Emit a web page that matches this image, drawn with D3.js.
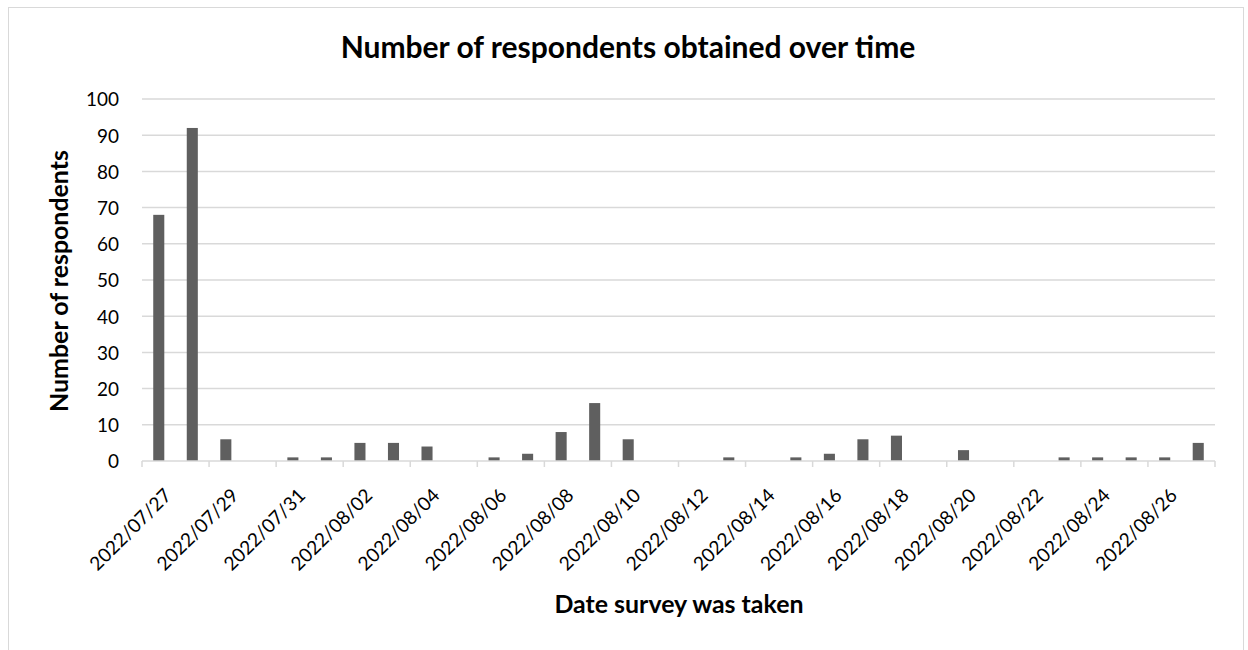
<!DOCTYPE html>
<html>
<head>
<meta charset="utf-8">
<script src="https://cdn.jsdelivr.net/npm/d3@7"></script>
<style>
  html, body { margin: 0; padding: 0; background: #fff; }
  svg { display: block; }
</style>
</head>
<body>
<svg id="chart" width="1248" height="650"></svg>
<script>
// Daily survey responses, 2022/07/27 – 2022/08/27
const dates = [
  "2022/07/27","2022/07/28","2022/07/29","2022/07/30","2022/07/31","2022/08/01",
  "2022/08/02","2022/08/03","2022/08/04","2022/08/05","2022/08/06","2022/08/07",
  "2022/08/08","2022/08/09","2022/08/10","2022/08/11","2022/08/12","2022/08/13",
  "2022/08/14","2022/08/15","2022/08/16","2022/08/17","2022/08/18","2022/08/19",
  "2022/08/20","2022/08/21","2022/08/22","2022/08/23","2022/08/24","2022/08/25",
  "2022/08/26","2022/08/27"
];
const respondents = [
  68, 92, 6, 0, 1, 1,
  5, 5, 4, 0, 1, 2,
  8, 16, 6, 0, 0, 1,
  0, 1, 2, 6, 7, 0,
  3, 0, 0, 1, 1, 1,
  1, 5
];
const yTicks = [0, 10, 20, 30, 40, 50, 60, 70, 80, 90, 100];
// every second date gets a label
const xLabels = dates.filter((d, i) => i % 2 === 0);

const titleText = "Number of respondents obtained over time";
const yTitle = "Number of respondents";
const xTitle = "Date survey was taken";

const FONT = "Lato, 'Liberation Sans', Arial, sans-serif";
const CAP = 0.72; // cap height of the font, in em

const svg = d3.select("#chart");
const plot = { left: 142, right: 1215, top: 99, bottom: 461 };

// size a text node so that its rendered width equals `width`
function fitSize(node, width) {
  const base = 20;
  node.setAttribute("font-size", base);
  const w = node.getComputedTextLength();
  return base * width / w;
}

// outer chart frame
svg.append("rect")
  .attr("x", 8.5).attr("y", 7.5)
  .attr("width", 1235).attr("height", 660)
  .attr("fill", "#fff").attr("stroke", "#d9d9d9").attr("stroke-width", 1);

const x = d3.scaleBand()
  .domain(dates)
  .range([plot.left, plot.right])
  .paddingInner(0.67).paddingOuter(0.335);

const y = d3.scaleLinear().domain([0, 100]).range([plot.bottom, plot.top]);

// horizontal gridlines
svg.append("g")
  .selectAll("line")
  .data(yTicks.filter(t => t > 0))
  .join("line")
  .attr("x1", plot.left).attr("x2", plot.right)
  .attr("y1", d => y(d)).attr("y2", d => y(d))
  .attr("stroke", "#d9d9d9").attr("stroke-width", 1.5);

// y axis labels
const yAxis = d3.axisLeft(y).tickValues(yTicks).tickSize(0).tickPadding(23);
const gy = svg.append("g").attr("transform", `translate(${plot.left},0)`).call(yAxis);
gy.select(".domain").remove();
gy.attr("font-family", FONT);
const yLabelSize = fitSize(gy.selectAll("text").filter(d => d === 100).node(), 33);
gy.selectAll("text")
  .attr("font-size", yLabelSize)
  .attr("dy", (CAP / 2) + "em")
  .attr("fill", "#000");

// bars
svg.append("g")
  .selectAll("rect")
  .data(dates.map((d, i) => ({ date: d, value: respondents[i] })))
  .join("rect")
  .attr("x", d => x(d.date))
  .attr("width", x.bandwidth())
  .attr("y", d => y(d.value))
  .attr("height", d => y(0) - y(d.value))
  .attr("fill", "#5f5f5f");

// x axis line and ticks (a tick at the start of every second day)
const step = x.step();
const tickPositions = d3.range(0, dates.length + 1, 2).map(i => plot.left + i * step);
const gx = svg.append("g");
gx.append("line")
  .attr("x1", plot.left).attr("x2", plot.right)
  .attr("y1", plot.bottom).attr("y2", plot.bottom)
  .attr("stroke", "#d9d9d9").attr("stroke-width", 1.5);
gx.selectAll("line.tick")
  .data(tickPositions)
  .join("line")
  .attr("class", "tick")
  .attr("x1", d => d).attr("x2", d => d)
  .attr("y1", plot.bottom).attr("y2", plot.bottom + 6)
  .attr("stroke", "#d9d9d9").attr("stroke-width", 1.5);

// rotated date labels; the top-right corner of each label sits just right of its bar
const dateLabels = gx.selectAll("text")
  .data(xLabels)
  .join("text")
  .attr("text-anchor", "end")
  .attr("font-family", FONT)
  .attr("fill", "#000")
  .text(d => d);
const dateSize = fitSize(dateLabels.node(), 106);
const off = CAP * dateSize * Math.SQRT1_2;
dateLabels
  .attr("font-size", dateSize)
  .attr("transform", d => `translate(${x(d) + x.bandwidth() / 2 + 4 + off},${487 + off}) rotate(-45)`);

// titles
const t = svg.append("text")
  .attr("x", 628).attr("y", 58)
  .attr("text-anchor", "middle")
  .attr("font-family", FONT)
  .attr("font-weight", "bold")
  .attr("fill", "#000")
  .text(titleText);
t.attr("font-size", fitSize(t.node(), 575));

const yt = svg.append("text")
  .attr("transform", `translate(68,281) rotate(-90)`)
  .attr("text-anchor", "middle")
  .attr("font-family", FONT)
  .attr("font-weight", "bold")
  .attr("fill", "#000")
  .text(yTitle);
const axisTitleSize = fitSize(yt.node(), 262);
yt.attr("font-size", axisTitleSize);

svg.append("text")
  .attr("x", 679).attr("y", 613)
  .attr("text-anchor", "middle")
  .attr("font-family", FONT)
  .attr("font-weight", "bold")
  .attr("font-size", axisTitleSize)
  .attr("fill", "#000")
  .text(xTitle);
</script>
</body>
</html>
